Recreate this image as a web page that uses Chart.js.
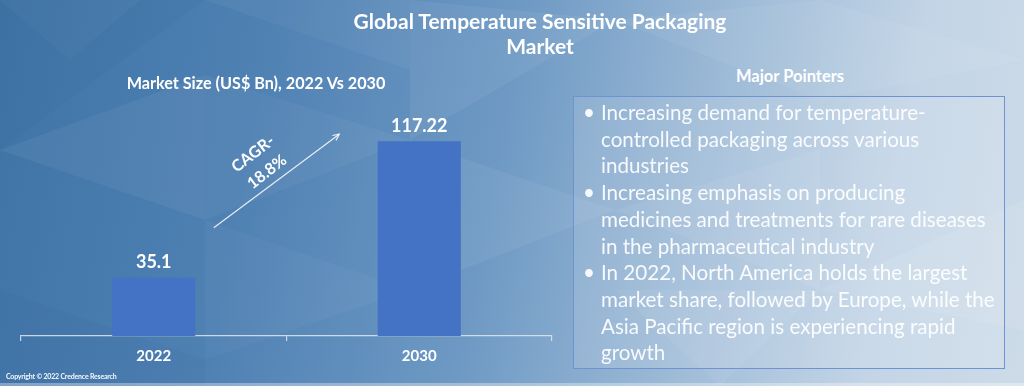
<!DOCTYPE html>
<html>
<head>
<meta charset="utf-8">
<script src="https://cdn.jsdelivr.net/npm/chart.js@4/dist/chart.umd.min.js"></script>
<style>
  html,body{margin:0;padding:0;width:1024px;height:386px;overflow:hidden;}
  body{position:relative;font-family:Lato,"Open Sans",sans-serif;
    background:linear-gradient(100deg,#3f73a6 0%,#4f81b3 25%,#6e99c4 48%,#9ebbd7 68%,#c2d4e6 85%,#cddbe8 100%);}
  #bg{position:absolute;left:0;top:0;width:1024px;height:386px;}
  #wrap{position:absolute;left:0;top:0;width:580px;height:386px;}
  .t{position:absolute;color:#fff;white-space:nowrap;}
  #title{left:290px;width:500px;top:8px;text-align:center;font-weight:700;font-size:21px;line-height:25px;}
  #sub{left:106px;width:300px;top:73px;text-align:center;font-weight:700;font-size:16.2px;}
  #mp{left:710px;width:160px;top:66px;text-align:center;font-weight:700;font-size:16.5px;}
  #box{position:absolute;left:573px;top:96px;width:432px;height:273px;border:1.5px solid #6f92d2;background:rgba(255,255,255,0.13);box-sizing:border-box;}
  #bul{position:absolute;left:601px;top:99px;font-size:20.6px;line-height:26.7px;color:rgba(255,255,255,0.92);}
  #bul .p{position:relative;white-space:nowrap;}
  #bul .p::before{content:"•";position:absolute;left:-18px;top:0;}
  #copy{left:6px;top:372px;font-size:7px;letter-spacing:-0.2px;font-weight:700;color:#f4f7fb;}
  #strip{position:absolute;left:0;top:383px;width:1024px;height:3px;background:rgba(255,255,255,0.35);}
</style>
</head>
<body>
<svg id="bg" width="1024" height="386">
  <g fill="#ffffff">
    <polygon points="0,0 140,0 70,60" fill-opacity="0.03"/>
    <polygon points="205,0 410,0 410,70" fill-opacity="0.04"/>
    <polygon points="0,150 205,75 205,220" fill-opacity="0.05"/>
    <polygon points="205,75 410,140 205,220" fill-opacity="0.04"/>
    <polygon points="410,0 615,20 410,140" fill-opacity="0.06"/>
    <polygon points="615,20 820,0 820,100" fill-opacity="0.05"/>
    <polygon points="410,140 615,210 410,290" fill-opacity="0.06"/>
    <polygon points="615,210 820,150 820,290" fill-opacity="0.06"/>
    <polygon points="820,0 1024,60 820,100" fill-opacity="0.06"/>
    <polygon points="820,290 1024,200 1024,330" fill-opacity="0.08"/>
    <polygon points="615,290 820,290 720,386" fill-opacity="0.06"/>
    <polygon points="205,220 410,290 205,360" fill-opacity="0.03"/>
  </g>
  <g fill="#1f4f80">
    <polygon points="0,0 205,0 0,150" fill-opacity="0.06"/>
    <polygon points="0,290 205,360 205,386 0,386" fill-opacity="0.05"/>
  </g>
</svg>
<div id="wrap"><canvas id="c" width="580" height="386"></canvas></div>
<div class="t" id="title">Global Temperature Sensitive Packaging<br>Market</div>
<div class="t" id="sub">Market Size (US$ Bn), 2022 Vs 2030</div>
<div class="t" id="mp">Major Pointers</div>
<div id="box"></div>
<div id="bul">
  <div class="p">Increasing demand for temperature-<br>controlled packaging across various<br>industries</div>
  <div class="p">Increasing emphasis on producing<br>medicines and treatments for rare diseases<br>in the pharmaceutical industry</div>
  <div class="p">In 2022, North America holds the largest<br>market share, followed by Europe, while the<br>Asia Pacific region is experiencing rapid<br>growth</div>
</div>
<div class="t" id="copy">Copyright © 2022 Credence Research</div>
<div id="strip"></div>
<script>
const categories = ["2022", "2030"];
const marketSize = [35.1, 117.22];
const valueLabels = ["35.1", "117.22"];
const cagrLines = ["CAGR-", "18.8%"];

const overlay = {
  id: 'overlay',
  afterDatasetsDraw(chart) {
    const ctx = chart.ctx;
    const bars = chart.getDatasetMeta(0).data;
    ctx.save();
    ctx.fillStyle = '#ffffff';
    ctx.font = 'bold 18px Lato, sans-serif';
    ctx.textAlign = 'center';
    ctx.textBaseline = 'middle';
    bars.forEach((b, i) => ctx.fillText(valueLabels[i], b.x, b.y - 15));
    // arrow between bars
    const x1 = bars[0].x + 60, y1 = bars[0].y - 50;
    const x2 = bars[1].x - 80, y2 = bars[1].y - 7;
    ctx.strokeStyle = 'rgba(255,255,255,0.85)';
    ctx.lineWidth = 1.2;
    ctx.beginPath(); ctx.moveTo(x1, y1); ctx.lineTo(x2, y2); ctx.stroke();
    const ang = Math.atan2(y2 - y1, x2 - x1);
    ctx.beginPath();
    ctx.moveTo(x2 - 7 * Math.cos(ang - 0.45), y2 - 7 * Math.sin(ang - 0.45));
    ctx.lineTo(x2, y2);
    ctx.lineTo(x2 - 7 * Math.cos(ang + 0.45), y2 - 7 * Math.sin(ang + 0.45));
    ctx.stroke();
    // CAGR text
    ctx.translate((x1 + x2) / 2 - 16.5, (y1 + y2) / 2 - 18);
    ctx.rotate(-37.7 * Math.PI / 180);
    ctx.font = 'bold 16px Lato, sans-serif';
    ctx.fillText(cagrLines[0], 0, -11.4);
    ctx.fillText(cagrLines[1], 0, 11.4);
    ctx.restore();
  }
};

new Chart(document.getElementById('c'), {
  type: 'bar',
  data: {
    labels: categories,
    datasets: [{
      data: marketSize,
      backgroundColor: '#4472c4',
      borderWidth: 0,
      categoryPercentage: 1,
      barPercentage: 0.313
    }]
  },
  options: {
    responsive: false,
    animation: false,
    layout: { padding: { left: 21, right: 28, top: 100, bottom: 15 } },
    plugins: { legend: { display: false }, tooltip: { enabled: false } },
    scales: {
      x: {
        border: { display: true, color: 'rgba(225,232,240,0.85)', width: 1.2 },
        grid: { drawOnChartArea: false, drawTicks: true, tickLength: 5, color: 'rgba(225,232,240,0.85)', lineWidth: 1.2 },
        ticks: { color: '#ffffff', font: { family: 'Lato, sans-serif', size: 15, weight: 'bold' }, padding: 6 }
      },
      y: { display: false, min: 0, max: 142 }
    }
  },
  plugins: [overlay]
});
</script>
</body>
</html>
